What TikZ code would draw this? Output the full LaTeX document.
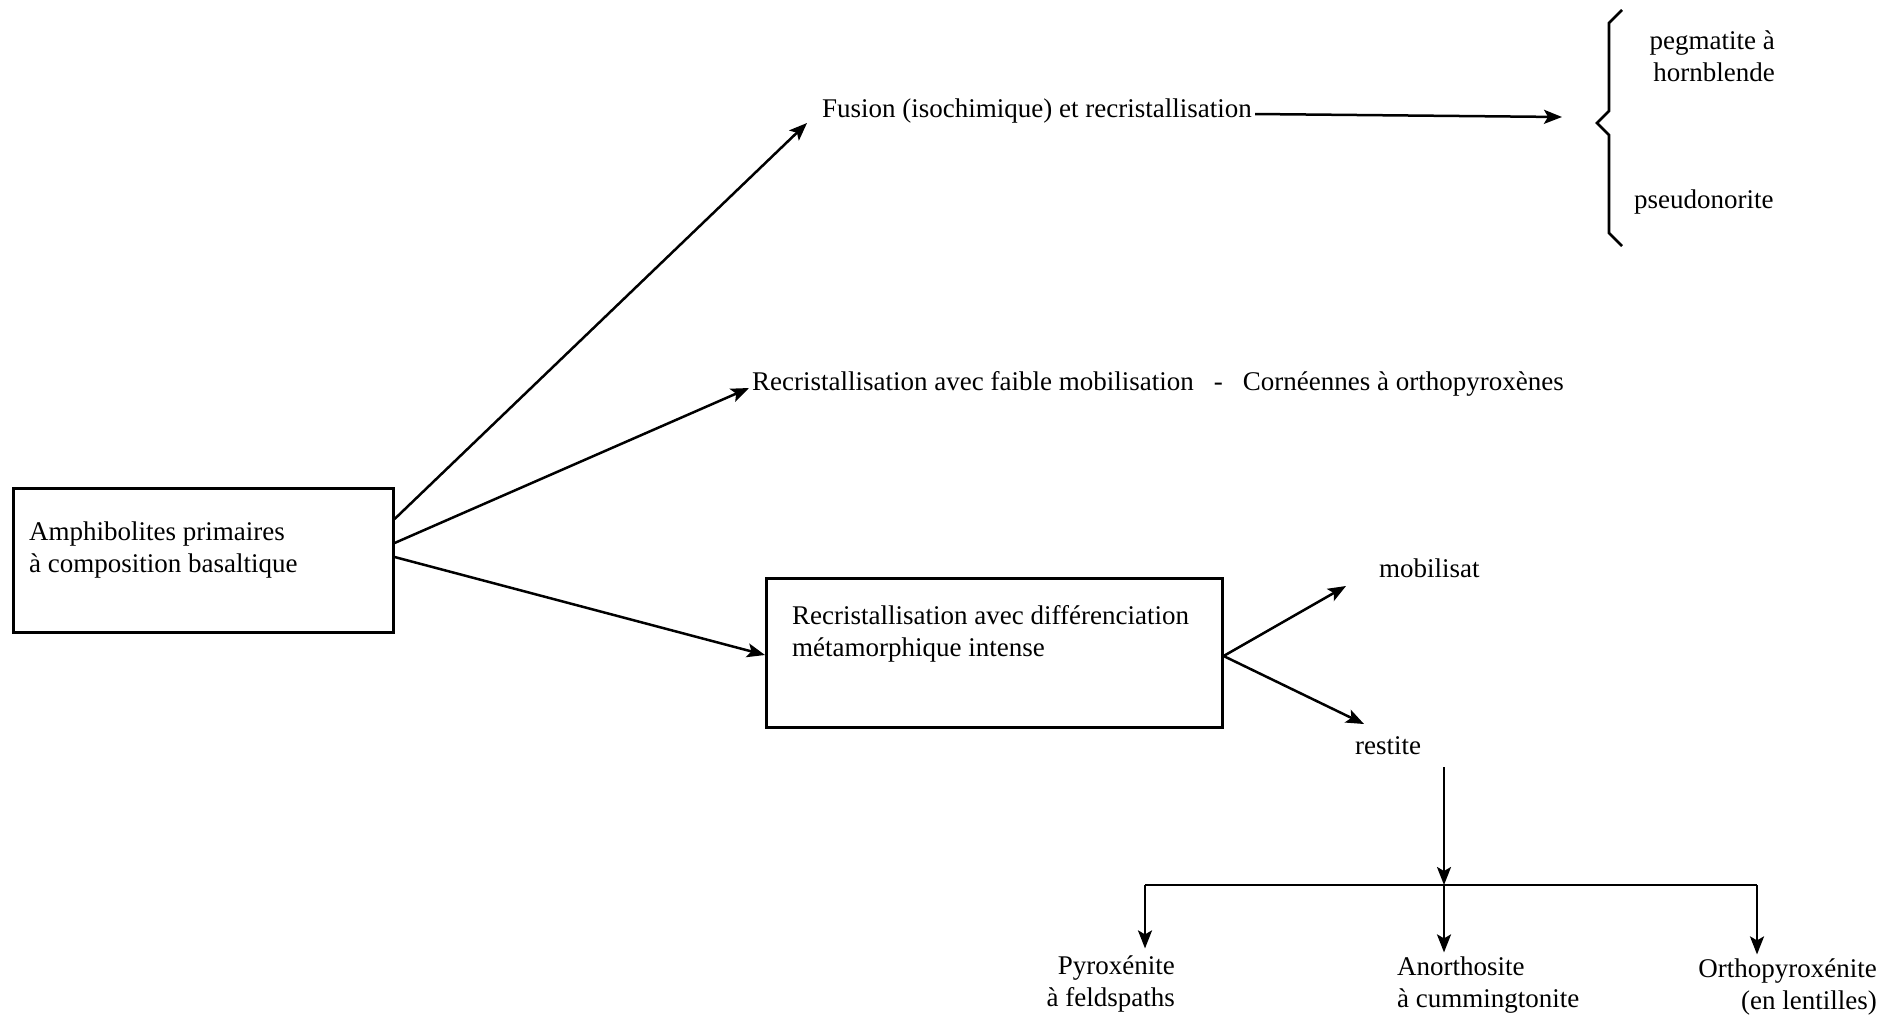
\documentclass[tikz,border=0pt]{standalone}
\usepackage{fontspec}
\setmainfont{Liberation Serif}
\usetikzlibrary{arrows.meta,calc}
\begin{document}
\begin{tikzpicture}[x=1pt,y=-1pt,
  txt/.style={inner sep=0pt, font=\fontsize{27}{32}\selectfont},
  boxst/.style={draw, line width=2.6pt, inner sep=0pt},
  lin/.style={line width=2.5pt},
  arr/.style={lin, -{Stealth[length=18pt,width=14pt,inset=4pt]}}]
\fill[white] (0,0) rectangle (1884,1018);
\useasboundingbox (0,0) rectangle (1884,1018);

% boxes
\node[boxst, minimum width=380pt, minimum height=144pt, anchor=north west] (box1) at (12,487) {};
\node[boxst, minimum width=456pt, minimum height=149pt, anchor=north west] (box2) at (765,577) {};

% texts
\node[txt, anchor=base west] (t1) at (29,540)
  {\begin{tabular}[t]{@{}l@{}}Amphibolites primaires\\à composition basaltique\end{tabular}};
\node[txt, anchor=base west] (fusion) at (822,117) {Fusion (isochimique) et recristallisation};
\node[txt, anchor=base west] (faible) at (752,390)
  {Recristallisation avec faible mobilisation\hspace{20pt}-\hspace{20pt}Cornéennes à orthopyroxènes};
\node[txt, anchor=base west] (t2) at (792,624)
  {\begin{tabular}[t]{@{}l@{}}Recristallisation avec différenciation\\métamorphique intense\end{tabular}};
\node[txt, anchor=base west] (mob) at (1379,577) {mobilisat};
\node[txt, anchor=base west] (rest) at (1355,754) {restite};
\node[txt, anchor=base east] (peg) at (1775,49)
  {\begin{tabular}[t]{@{}r@{}}pegmatite à\\hornblende\end{tabular}};
\node[txt, anchor=base west] (pseudo) at (1634,208) {pseudonorite};
\node[txt, anchor=base east] (pyro) at (1175,974)
  {\begin{tabular}[t]{@{}r@{}}Pyroxénite\\à feldspaths\end{tabular}};
\node[txt, anchor=base west] (anor) at (1397,975)
  {\begin{tabular}[t]{@{}l@{}}Anorthosite\\à cummingtonite\end{tabular}};
\node[txt, anchor=base east] (ortho) at (1877,977)
  {\begin{tabular}[t]{@{}r@{}}Orthopyroxénite\\(en lentilles)\end{tabular}};

% brace
\coordinate (brtip) at (1597,123);
\draw[line width=2.6pt, line join=miter]
  (1622,10) -- (1609,23) -- (1609,111) -- (brtip) -- (1609,135) -- (1609,233) -- (1622,246);

% connectors
\draw[arr] ([yshift=-32pt]box1.north east) -- ([xshift=-15pt,yshift=-6pt]fusion.base west);
\draw[arr] ([yshift=-56pt]box1.north east) -- ([xshift=-3pt,yshift=2pt]faible.base west);
\draw[arr] ([yshift=-70pt]box1.north east) -- ([yshift=-78pt]box2.north west);
\draw[arr] ([xshift=3pt,yshift=3pt]fusion.base east) -- ([xshift=-35pt,yshift=6pt]brtip);
\draw[arr] ([yshift=-79pt]box2.north east) -- ([xshift=-33pt,yshift=-9pt]mob.base west);
\draw[arr] ([yshift=-79pt]box2.north east) -- ([xshift=9pt,yshift=30pt]rest.base west);

\coordinate (split) at (1444,885);
\coordinate (hl) at (1145,885);
\coordinate (hr) at (1757,885);
\draw[arr] ($(split |- rest.base)+(0,13)$) -- (split);
\draw[lin] (hl) -- (hr);
\draw[arr] (hl) -- ($(hl |- pyro.north)+(0,-3)$);
\draw[arr] (split) -- (split |- anor.north);
\draw[arr] (hr) -- (hr |- ortho.north);
\end{tikzpicture}
\end{document}
